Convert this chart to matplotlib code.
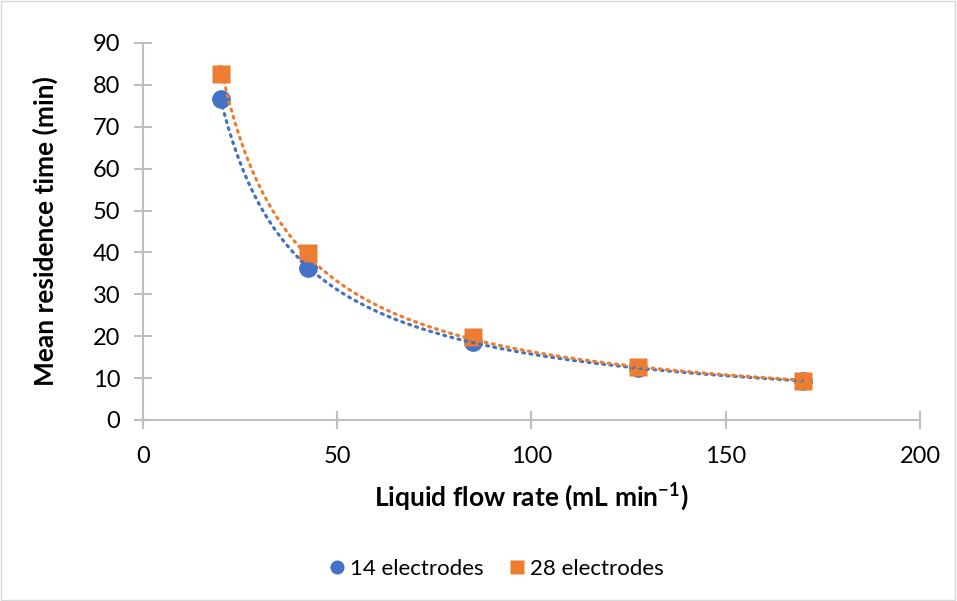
import numpy as np
import matplotlib.pyplot as plt

plt.rcParams['font.family'] = ['Lato', 'DejaVu Sans']

# flow rate (mL/min)
flow = [20, 42.5, 85, 127.5, 170]
# mean residence time (min)
t14 = [76.7, 36.2, 18.6, 12.4, 9.3]
t28 = [82.6, 39.9, 19.8, 12.6, 9.3]

blue = '#4472C4'
orange = '#ED7D31'

fig = plt.figure(figsize=(9.57, 6.01), dpi=100)
ax = fig.add_axes([0.1494, 0.3012, 0.8119, 0.6273])

# power trendlines (fit in log-log space, like Excel)
xf = np.linspace(min(flow), max(flow), 300)
for y, c in [(t14, blue), (t28, orange)]:
    b, a = np.polyfit(np.log(flow), np.log(y), 1)
    ax.plot(xf, np.exp(a) * xf ** b, color=c, lw=2.3,
            linestyle=(0, (0.6, 1.7)), dash_capstyle='round', zorder=3)

ax.plot(flow, t14, 'o', color=blue, ms=13.5, mec='none', label='14 electrodes', zorder=2)
ax.plot(flow, t28, 's', color=orange, ms=13, mec='none', label='28 electrodes', zorder=2)

ax.set_xlim(0, 200)
ax.set_ylim(0, 90)
ax.set_xticks(range(0, 201, 50))
ax.set_yticks(range(0, 91, 10))
for s in ['top', 'right']:
    ax.spines[s].set_visible(False)
for s in ['left', 'bottom']:
    ax.spines[s].set_color('#bfbfbf')
    ax.spines[s].set_linewidth(1.5)
ax.tick_params(direction='inout', length=13, width=1.5, color='#bfbfbf',
               labelsize=17, labelcolor='#000000')
ax.tick_params(axis='y', pad=10)
ax.tick_params(axis='x', pad=12)

ax.set_xlabel('Liquid flow rate (mL min$^{\\mathregular{-1}}$)', fontsize=19,
              fontweight='bold', labelpad=10)
ax.set_ylabel('Mean residence time (min)', fontsize=19, fontweight='bold', labelpad=25)

leg = fig.legend(loc='center', bbox_to_anchor=(0.517, 0.053), ncol=2, frameon=False,
                 fontsize=16, handletextpad=0.1, columnspacing=1.0, markerscale=0.75,
                 handlelength=1.0)

fig.patches.append(plt.Rectangle((0.001, 0.002), 0.997, 0.996, transform=fig.transFigure,
                                 fill=False, edgecolor='#d9d9d9', lw=1))

fig.savefig('out.png', dpi=100)
